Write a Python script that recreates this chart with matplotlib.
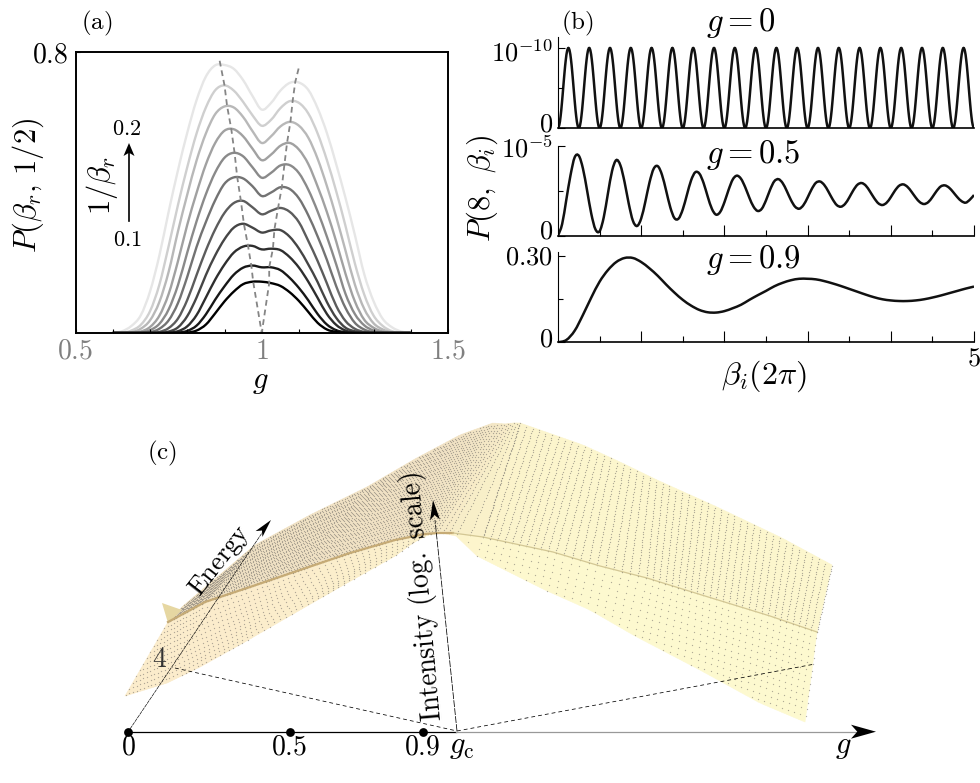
import numpy as np
import matplotlib
matplotlib.use("Agg")
import matplotlib.pyplot as plt
from matplotlib.collections import PolyCollection
from matplotlib.colors import to_rgb
from matplotlib.patches import PathPatch, Polygon
from matplotlib.path import Path

plt.rcParams['mathtext.fontset'] = 'cm'
plt.rcParams['font.family'] = ['cmr10', 'DejaVu Sans']
plt.rcParams['axes.formatter.use_mathtext'] = True

W, H = 980, 783

# panel (a): P(beta_r, 1/2) against g, darkest curve first
g_a = [0.6 + 0.025 * i for i in range(33)]
curves_a = [
    [0, 0, 0, 0, 0, 0, 0, 0, .001, .007, .024, .056, .09, .118, .139, .146, .146, .142, .134, .116, .091, .06, .029, .01, .003, 0, 0, 0, 0, 0, 0, 0, 0],
    [0, 0, 0, 0, 0, 0, 0, .001, .006, .021, .053, .095, .133, .166, .186, .192, .187, .187, .179, .157, .128, .093, .054, .024, .008, .002, 0, 0, 0, 0, 0, 0, 0],
    [0, 0, 0, 0, 0, 0, .001, .005, .019, .051, .101, .152, .195, .229, .246, .248, .238, .24, .236, .216, .186, .146, .10, .054, .023, .007, .001, 0, 0, 0, 0, 0, 0],
    [0, 0, 0, 0, 0, 0, .004, .016, .048, .101, .165, .221, .267, .30, .311, .30, .286, .292, .293, .274, .24, .195, .145, .088, .043, .015, .005, .001, 0, 0, 0, 0, 0],
    [0, 0, 0, 0, 0, .003, .014, .041, .094, .165, .235, .295, .342, .37, .376, .358, .338, .348, .356, .345, .315, .262, .205, .141, .077, .034, .012, .003, 0, 0, 0, 0, 0],
    [0, 0, 0, 0, .002, .012, .036, .085, .16, .245, .316, .378, .425, .443, .44, .418, .39, .40, .415, .41, .383, .335, .275, .208, .133, .071, .029, .01, .002, 0, 0, 0, 0],
    [0, 0, 0, .001, .008, .026, .067, .136, .229, .318, .395, .457, .499, .513, .503, .472, .442, .456, .477, .478, .455, .408, .346, .274, .195, .111, .054, .022, .007, .001, 0, 0, 0],
    [0, 0, 0, .004, .017, .049, .111, .204, .308, .399, .48, .541, .576, .58, .56, .525, .492, .508, .533, .541, .522, .481, .417, .344, .26, .168, .09, .038, .015, .004, 0, 0, 0],
    [0, 0, .002, .012, .036, .088, .174, .289, .394, .491, .568, .623, .645, .642, .615, .575, .541, .56, .588, .601, .59, .556, .496, .418, .33, .234, .138, .069, .028, .01, .002, 0, 0],
    [0, 0, .007, .023, .062, .137, .247, .364, .472, .568, .642, .691, .705, .69, .658, .62, .59, .607, .64, .66, .655, .625, .568, .492, .403, .304, .198, .11, .05, .02, .005, .001, 0],
    [0, .005, .02, .05, .118, .22, .345, .463, .57, .663, .73, .762, .763, .752, .72, .675, .636, .655, .69, .712, .713, .692, .64, .569, .48, .384, .279, .168, .091, .04, .016, .004, 0],
]
grays_a = [0.0, 0.09, 0.18, 0.27, 0.36, 0.45, 0.54, 0.63, 0.72, 0.81, 0.9]
peak_left_g = [.887, .90, .907, .918, .927, .934, .944, .952, .963, .972, .977, 1.0]
peak_left_p = [.775, .705, .646, .582, .513, .445, .376, .311, .249, .192, .146, 0]
peak_right_g = [1.099, 1.09, 1.083, 1.077, 1.068, 1.061, 1.054, 1.044, 1.034, 1.03, 1.02, 1.02, 1.0]
peak_right_p = [.753, .715, .661, .601, .542, .481, .416, .357, .295, .24, .187, .142, 0]

# panel (b): one period of the g = 0 trace repeats 20 times
period_b0 = [0, .038, .146, .309, .5, .691, .854, .962, 1, .962, .854, .691, .5, .309, .146, .038]
p_b0 = period_b0 * 20 + [0]
beta_b0 = [i / 64 for i in range(321)]

beta_b1 = [i * 0.05 for i in range(101)]
p_b1 = [0, .13, .40, .67, .87, .889, .745, .50, .244, .071,
        .05, .205, .469, .72, .84, .782, .596, .357, .167, .108,
        .192, .379, .593, .744, .772, .676, .50, .314, .195, .191,
        .293, .456, .616, .705, .689, .585, .433, .298, .234, .265,
        .371, .509, .624, .667, .632, .539, .422, .323, .275, .30,
        .393, .513, .605, .628, .585, .496, .396, .322, .30, .34,
        .424, .519, .588, .602, .564, .49, .406, .341, .322, .353,
        .423, .505, .567, .585, .556, .491, .418, .36, .341, .367,
        .428, .501, .555, .57, .543, .487, .423, .372, .352, .373,
        .429, .496, .547, .559, .534, .484, .428, .384, .367, .40, .452]

beta_b2 = [i * 0.1 for i in range(51)]
p_b2 = [0, .008, .04, .095, .155, .21, .25, .278, .292, .292,
        .278, .256, .23, .20, .172, .147, .127, .112, .104, .103,
        .108, .118, .13, .147, .163, .178, .194, .206, .215, .22,
        .22, .218, .212, .204, .195, .185, .175, .165, .156, .149,
        .145, .143, .143, .145, .149, .155, .162, .17, .178, .186, .193]

# panel (c): projected surface, read as pixel positions per station
bot_x = [125, 167, 200, 243, 300, 340, 395, 417, 453, 477, 545, 590, 635, 700, 760, 805]
bot_y = [696, 683, 667, 643, 610, 587, 556, 535, 533, 556, 590, 610, 636, 670, 703, 722]
ridge_x = [168, 205, 250, 300, 350, 395, 425, 437, 453, 483, 553, 600, 647, 705, 770, 817]
ridge_y = [622, 602, 587, 570, 553, 540, 534, 533, 533, 537, 552, 566, 578, 596, 616, 632]
top_x = [182, 255, 310, 367, 415, 460, 493, 505, 513, 520, 583, 620, 657, 717, 782, 832]
top_y = [607, 545, 515, 487, 459, 435, 423, 424, 423, 423, 445, 462, 480, 507, 538, 565]
upper_cols = ['#f1e2c4', '#f1e2c4', '#f1e2c4', '#f1e2c4', '#f1e2c4', '#f1e2c4', '#f3e6c5', '#f6eac7',
              '#f8eec8', '#fbf3cb', '#fcf6cd', '#fcf6cd', '#fcf6cd', '#fcf6cd', '#fcf6cd', '#fcf6cd']
lower_cols = ['#fbeccb', '#fbeccb', '#fbeccb', '#fbedcb', '#fbeecb', '#fbefcb', '#fbf0cb', '#fbf1cb',
              '#fcf3cb', '#fdf7cd', '#fdf8ce', '#fdf9cf', '#fdf9cf', '#fdf9cf', '#fdf9cf', '#fdf9cf']


def px_axes(left, top, right, bottom):
    return fig.add_axes([left / W, 1 - bottom / H, (right - left) / W, (bottom - top) / H])


def smooth_line(ax, x, y, **kw):
    # bezier through the read values, so the drawn trace has no corners
    p = np.column_stack([x, y]).astype(float)
    ext = np.vstack([p[0], p, p[-1]])
    verts = [p[0]]
    for i in range(1, len(ext) - 2):
        verts.append(ext[i] + (ext[i + 1] - ext[i - 1]) / 6)
        verts.append(ext[i + 1] - (ext[i + 2] - ext[i]) / 6)
        verts.append(ext[i + 1])
    codes = [Path.MOVETO] + [Path.CURVE4] * (len(verts) - 1)
    ax.add_patch(PathPatch(Path(verts, codes), fill=False, **kw))


def arrow_head(ax, tip, back, half, notch=0.25, color='k'):
    # concave head from the back centre to the tip
    tip = np.array(tip, float)
    back = np.array(back, float)
    d = tip - back
    n = np.array([-d[1], d[0]]) / np.hypot(*d)
    pts = [tip, back + n * half, back + d * notch, back - n * half]
    ax.add_patch(Polygon(pts, closed=True, color=color, lw=0, zorder=6))


def column(u, xs, ys):
    st = np.arange(len(xs))
    return np.interp(u, st, xs), np.interp(u, st, ys)


def blend(u, cols):
    rgb = np.array([to_rgb(c) for c in cols])
    st = np.arange(len(cols))
    return np.column_stack([np.interp(u, st, rgb[:, i]) for i in range(3)])


def band(ax, u, x0, y0, x1, y1, cols, step, every=1):
    # filled strip between two edges, with the grid dots on it
    polys = []
    for i in range(len(u) - 1):
        polys.append([(x0[i], y0[i]), (x1[i], y1[i]), (x1[i + 1], y1[i + 1]), (x0[i + 1], y0[i + 1])])
    face = blend(u[:-1], cols)
    ax.add_collection(PolyCollection(polys, facecolors=face, edgecolors=face, linewidths=0.4, zorder=1))
    dx, dy = [], []
    for i in range(0, len(u), every):
        length = np.hypot(x1[i] - x0[i], y1[i] - y0[i])
        if length < 1:
            continue
        t = np.arange(0, length, step) / length
        dx.extend(x0[i] + (x1[i] - x0[i]) * t)
        dy.extend(y0[i] + (y1[i] - y0[i]) * t)
    ax.scatter(dx, dy, s=0.9, c='#7f7a72', linewidths=0, alpha=0.6, zorder=2)


fig = plt.figure(figsize=(W / 100, H / 100), dpi=100)

# (a)
ax_a = px_axes(75.5, 52, 448, 333)
for p, gray in reversed(list(zip(curves_a, grays_a))):
    smooth_line(ax_a, g_a, p, color=str(gray), lw=1.7)
ax_a.plot(peak_left_g, peak_left_p, color='#858585', lw=1.3, dashes=(3.2, 2.2))
ax_a.plot(peak_right_g, peak_right_p, color='#858585', lw=1.3, dashes=(3.2, 2.2))
ax_a.set_xlim(0.5, 1.5)
ax_a.set_ylim(0, 0.8)
ax_a.set_xticks([0.5, 1, 1.5])
ax_a.set_xticklabels(['$0.5$', '$1$', '$1.5$'], fontsize=20, color='#808080')
ax_a.set_xticks([0.6, 0.7, 0.8, 0.9, 1.1, 1.2, 1.3, 1.4], minor=True)
ax_a.set_yticks([0.8])
ax_a.set_yticklabels(['$0.8$'], fontsize=20)
ax_a.tick_params(axis='x', which='both', direction='in', length=3, width=0.8, pad=4)
ax_a.tick_params(axis='y', direction='in', length=3, width=0.8, pad=5)
for s in ax_a.spines.values():
    s.set_linewidth(1.4)
ax_a.set_xlabel('$g$', fontsize=22, va='center')
ax_a.xaxis.set_label_coords(0.497, -0.175)
ax_a.set_ylabel(r'$P(\beta_r,\,1/2)$', fontsize=22, va='center')
ax_a.yaxis.set_label_coords(-0.128, 0.527)

# (b)
ax_b0 = px_axes(558, 37, 974, 128)
smooth_line(ax_b0, beta_b0, p_b0, color='#111111', lw=1.8)
ax_b0.set_xlim(0, 5)
ax_b0.set_ylim(0, 1.137)
ax_b0.set_xticks([])
ax_b0.set_yticks([0, 1])
ax_b0.set_yticks([0.5], minor=True)

ax_b1 = px_axes(558, 145.7, 974, 235.7)
smooth_line(ax_b1, beta_b1, p_b1, color='#111111', lw=1.8)
ax_b1.set_xlim(0, 5)
ax_b1.set_ylim(0, 1)
ax_b1.set_yticks([0, 1])
ax_b1.set_yticks([0.5], minor=True)

ax_b2 = px_axes(558, 251.7, 974, 342.3)
smooth_line(ax_b2, beta_b2, p_b2, color='#111111', lw=1.8)
ax_b2.set_xlim(0, 5)
ax_b2.set_ylim(0, 0.3138)
ax_b2.set_yticks([0, 0.30])
ax_b2.set_yticks([0.15], minor=True)
ax_b2.set_xlabel(r'$\beta_i(2\pi)$', fontsize=23, va='center')
ax_b2.xaxis.set_label_coords(0.496, -0.372)

for ax in (ax_b1, ax_b2):
    ax.set_xticks([1, 2, 3, 4, 5])
    ax.set_xticks([0.5, 1.5, 2.5, 3.5, 4.5], minor=True)
    ax.tick_params(axis='x', which='major', direction='in', length=8, width=0.8)
    ax.tick_params(axis='x', which='minor', direction='in', length=4, width=0.8)
ax_b1.set_xticklabels([])
ax_b2.set_xticklabels(['', '', '', '', '$5$'], fontsize=19)
ax_b2.tick_params(axis='x', which='major', pad=3)

for ax in (ax_b0, ax_b1, ax_b2):
    ax.set_yticklabels([])
    ax.spines['top'].set_visible(False)
    ax.spines['right'].set_visible(False)
    ax.spines['left'].set_linewidth(0.8)
    ax.spines['bottom'].set_linewidth(1.2)
    ax.tick_params(axis='y', which='major', direction='in', length=5, width=0.8, pad=4)
    ax.tick_params(axis='y', which='minor', direction='in', length=3.5, width=0.8)

# everything else sits on one overlay in pixel units
ov = fig.add_axes([0, 0, 1, 1], zorder=5)
ov.set_xlim(0, W)
ov.set_ylim(H, 0)
ov.axis('off')

for label, y in [('$10^{-10}$', 53), ('$0$', 125), ('$10^{-5}$', 149), ('$0$', 232), ('$0.30$', 258), ('$0$', 340)]:
    ov.text(553, y, label, fontsize=19, ha='right', va='center')

# columns evenly spaced along the top edge
stations = np.arange(len(top_x))
u_left = np.interp(np.linspace(top_x[0], top_x[9], 112), top_x, stations)
u_right = np.interp(np.linspace(top_x[9], top_x[15], 49), top_x, stations)
u_all = np.concatenate([u_left, u_right[1:]])
xb, yb = column(u_all, bot_x, bot_y)
xr, yr = column(u_all, ridge_x, ridge_y)
xt, yt = column(u_all, top_x, top_y)
n_l = len(u_left)

band(ov, u_left, xr[:n_l], yr[:n_l], xb[:n_l], yb[:n_l], lower_cols, 7, every=2)
band(ov, u_all[n_l - 1:], xr[n_l - 1:], yr[n_l - 1:], xb[n_l - 1:], yb[n_l - 1:], lower_cols, 6.5)
band(ov, u_left, xr[:n_l], yr[:n_l], xt[:n_l], yt[:n_l], upper_cols, 3.1)
band(ov, u_all[n_l - 1:], xr[n_l - 1:], yr[n_l - 1:], xt[n_l - 1:], yt[n_l - 1:], upper_cols, 2.6)

ov.add_patch(Polygon([(162, 603), (182, 610), (168, 623)], closed=True, color='#e6d7a2', lw=0, zorder=3))
ov.plot(ridge_x[:9], ridge_y[:9], color='#c6ab76', lw=1.6, zorder=3)
ov.plot(ridge_x[8:], ridge_y[8:], color='#d3c794', lw=0.9, zorder=3)

# (c) axes
ov.plot([128, 456], [731.7, 731.7], color='k', lw=0.9, zorder=4)
ov.plot([456, 860], [731.7, 731.7], color='#999999', lw=0.9, zorder=4)
arrow_head(ov, (876, 731.7), (851, 731.7), 7)
ov.scatter([128, 290, 423], [731.7, 731.7, 731.7], s=40, c='k', linewidths=0, zorder=6)
ov.plot([130, 264], [729, 530], color='k', lw=0.45, dashes=(6, 1), zorder=4)
arrow_head(ov, (271, 520), (259, 534), 4.5)
ov.plot([175, 457], [668, 731], color='k', lw=0.55, dashes=(5, 4), zorder=4)
ov.plot([457, 815], [731, 664], color='k', lw=0.55, dashes=(5, 4), zorder=4)
ov.plot([457, 435], [731, 520], color='k', lw=0.55, dashes=(9, 1.5), zorder=4)
arrow_head(ov, (433, 500), (435, 520), 5)

fs_c = 20
ov.text(128, 747, '$0$', fontsize=fs_c, ha='center', va='center')
ov.text(289, 747, '$0.5$', fontsize=fs_c, ha='center', va='center')
ov.text(422, 747, '$0.9$', fontsize=fs_c, ha='center', va='center')
ov.text(462, 747, r'$g_{\mathrm{c}}$', fontsize=22, ha='center', va='center')
ov.text(843, 747, '$g$', fontsize=22, ha='center', va='center')
ov.text(160, 660, '$4$', fontsize=fs_c, ha='center', va='center', color='#333333')
ov.text(220, 561, r'$\mathrm{Energy}$', fontsize=19, ha='center', va='center', rotation=52, zorder=7)
ov.text(423, 597, r'$\mathrm{Intensity\ (log.\ scale)}$', fontsize=20, ha='center', va='center', rotation=95, zorder=7)

# panel labels and notes
ov.text(97, 23, r'$\mathrm{(a)}$', fontsize=18, ha='center', va='center')
ov.text(577, 23, r'$\mathrm{(b)}$', fontsize=18, ha='center', va='center')
ov.text(162, 453, r'$\mathrm{(c)}$', fontsize=18, ha='center', va='center')
ov.text(741, 23, '$g=0$', fontsize=23.5, ha='center', va='center')
ov.text(753, 155, '$g=0.5$', fontsize=23.5, ha='center', va='center')
ov.text(753, 260, '$g=0.9$', fontsize=23.5, ha='center', va='center')
ov.text(127, 129, '$0.2$', fontsize=16, ha='center', va='center')
ov.text(127, 240, '$0.1$', fontsize=16, ha='center', va='center')
ov.text(102, 185, r'$1/\beta_r$', fontsize=22, ha='center', va='center', rotation=90)
ov.plot([129, 129], [221, 152], color='k', lw=1.2, zorder=4)
arrow_head(ov, (129, 143), (129, 156), 5.5)
ov.text(482, 189, r'$P(8,\ \beta_i)$', fontsize=22, ha='center', va='center', rotation=90)

fig.savefig('out.png', dpi=100)
